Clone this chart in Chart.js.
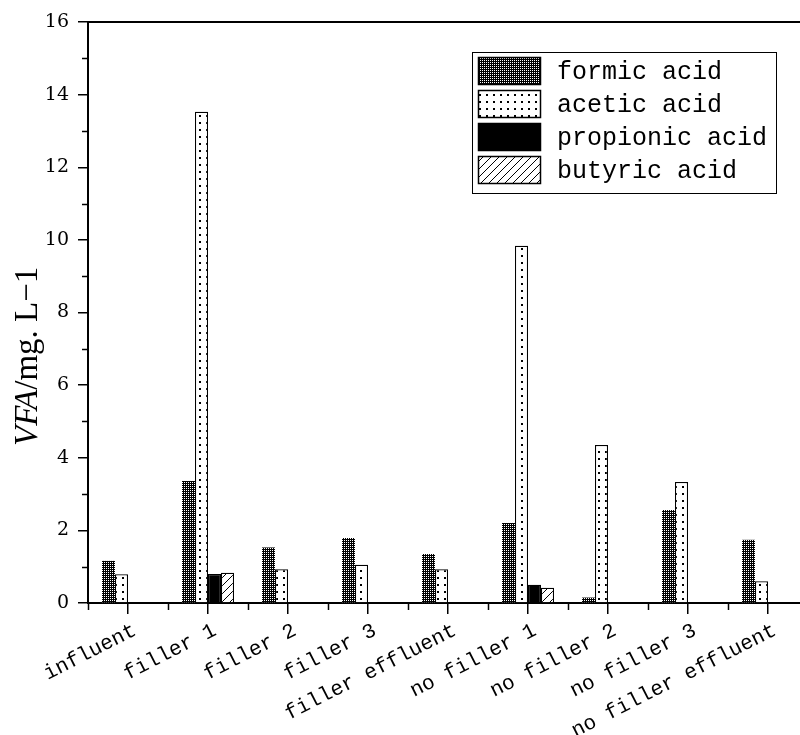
<!DOCTYPE html>
<html>
<head>
<meta charset="utf-8">
<script src="https://cdn.jsdelivr.net/npm/chart.js@4.4.1/dist/chart.umd.min.js"></script>
<style>
    html, body { margin: 0; padding: 0; background: #fff; overflow: hidden; }
    #wrap { position: absolute; left: 0; top: 0; }
</style>
</head>
<body>
<div id="wrap"><canvas id="vfaChart" width="810" height="735"></canvas></div>
<script>
// VFA concentrations per sampling point
const categories = ['influent', 'filler 1', 'filler 2', 'filler 3', 'filler effluent',
    'no filler 1', 'no filler 2', 'no filler 3', 'no filler effluent'];
const seriesNames = ['formic acid', 'acetic acid', 'propionic acid', 'butyric acid'];
const formicAcid = [1.16, 3.36, 1.53, 1.79, 1.35, 2.2, 0.15, 2.56, 1.74];
const aceticAcid = [0.79, 13.53, 0.93, 1.05, 0.93, 9.84, 4.35, 3.33, 0.6];
const propionicAcid = [null, 0.8, null, null, null, 0.5, null, null, null];
const butyricAcid = [null, 0.83, null, null, null, 0.42, null, null, null];
const yMin = 0, yMax = 16, yStep = 2;
const yTitleItalic = 'VFA';
const yTitleRest = '/mg. L\u22121';

const ctx = document.getElementById('vfaChart').getContext('2d');

// small pattern tiles for the bar fills
function makePattern(w, h, draw) {
    const tile = document.createElement('canvas');
    tile.width = w;
    tile.height = h;
    const t = tile.getContext('2d');
    draw(t);
    return ctx.createPattern(tile, 'repeat');
}

const formicFill = makePattern(4, 4, t => {
    t.fillStyle = '#000';
    t.fillRect(0, 0, 4, 4);
    t.fillStyle = '#fff';
    t.fillRect(0, 0, 1, 1);
    t.fillRect(2, 2, 1, 1);
    t.fillRect(2, 0, 1, 1);
    t.fillRect(0, 2, 1, 1);
});
const aceticFill = makePattern(7, 7, t => {
    t.fillStyle = '#fff';
    t.fillRect(0, 0, 7, 7);
    t.fillStyle = '#000';
    t.fillRect(3, 3, 2, 2);
});
const butyricFill = makePattern(8, 8, t => {
    t.fillStyle = '#fff';
    t.fillRect(0, 0, 8, 8);
    t.strokeStyle = '#000';
    t.lineWidth = 1;
    t.beginPath();
    t.moveTo(-1, 9);
    t.lineTo(9, -1);
    t.stroke();
});

const fills = [formicFill, aceticFill, '#000', butyricFill];
const values = [formicAcid, aceticAcid, propionicAcid, butyricAcid];

// extra ticks, frame line, legend box and y title
const decorations = {
    id: 'decorations',
    afterDraw(chart) {
        const c = chart.ctx;
        const area = chart.chartArea;
        const xs = chart.scales.x;
        const ys = chart.scales.y;
        c.save();
        c.strokeStyle = '#000';
        c.fillStyle = '#000';

        // top frame line
        c.lineWidth = 2;
        c.beginPath();
        c.moveTo(area.left, area.top);
        c.lineTo(area.right + 2, area.top);
        c.stroke();

        // minor y ticks
        c.lineWidth = 1.5;
        for (let v = yMin + yStep / 2; v < yMax; v += yStep) {
            const y = Math.round(ys.getPixelForValue(v)) + 0.5;
            c.beginPath();
            c.moveTo(area.left - 6, y);
            c.lineTo(area.left, y);
            c.stroke();
        }

        // minor x ticks at the category boundaries
        const half = (xs.getPixelForValue(1) - xs.getPixelForValue(0)) / 2;
        for (let i = 0; i <= categories.length; i++) {
            const x = Math.round(xs.getPixelForValue(i) - half) + 0.5;
            c.beginPath();
            c.moveTo(x, area.bottom);
            c.lineTo(x, area.bottom + 7);
            c.stroke();
        }

        // legend
        const lx = area.left + 384;
        const ly = area.top + 30;
        c.lineWidth = 1;
        c.strokeRect(lx + 0.5, ly + 0.5, 304, 141);
        c.font = '25px "Liberation Mono", monospace';
        c.textBaseline = 'middle';
        c.textAlign = 'left';
        chart.data.datasets.forEach((ds, i) => {
            const sy = ly + 5 + i * 33;
            c.fillStyle = ds.backgroundColor;
            c.fillRect(lx + 6, sy, 63, 28);
            c.lineWidth = 1.5;
            c.strokeRect(lx + 6.5, sy + 0.5, 62, 27);
            c.fillStyle = '#000';
            c.fillText(ds.label, lx + 85, sy + 15);
        });

        // y axis title, italic part then plain part
        c.translate(37, 446);
        c.rotate(-Math.PI / 2);
        c.textBaseline = 'alphabetic';
        c.font = 'italic 33px "Liberation Serif", serif';
        c.fillText(yTitleItalic, 0, 0);
        const w = c.measureText(yTitleItalic).width;
        c.font = '33px "Liberation Serif", serif';
        c.fillText(yTitleRest, w, 0);
        c.restore();
    }
};

const chart = new Chart(ctx, {
    type: 'bar',
    data: {
        labels: categories,
        datasets: seriesNames.map((name, i) => ({
            label: name,
            data: values[i],
            backgroundColor: fills[i],
            borderColor: '#000',
            borderWidth: i === 0 ? 0 : 1.2,
            categoryPercentage: 0.65,
            barPercentage: 1.0
        }))
    },
    options: {
        responsive: false,
        animation: false,
        devicePixelRatio: 1,
        layout: {
            padding: { top: 22, right: 2, left: 0, bottom: 0 }
        },
        scales: {
            x: {
                grid: {
                    display: true,
                    drawOnChartArea: false,
                    drawTicks: true,
                    offset: false,
                    tickLength: 11,
                    color: '#000',
                    lineWidth: 1.5
                },
                border: { color: '#000', width: 2 },
                ticks: {
                    autoSkip: false,
                    maxRotation: 27,
                    minRotation: 27,
                    padding: 4,
                    labelOffset: 7,
                    color: '#000',
                    font: { family: '"Liberation Mono", monospace', size: 21 }
                },
                afterFit: function(scale) {
                    scale.height = 132;
                }
            },
            y: {
                min: yMin,
                max: yMax,
                grid: {
                    display: true,
                    drawOnChartArea: false,
                    drawTicks: true,
                    tickLength: 10,
                    color: '#000',
                    lineWidth: 1.5
                },
                border: { color: '#000', width: 2 },
                ticks: {
                    stepSize: yStep,
                    padding: 9,
                    color: '#000',
                    font: { family: '"DejaVu Serif", serif', size: 19 }
                },
                afterFit: function(scale) {
                    scale.width = 88;
                }
            }
        },
        plugins: {
            legend: { display: false },
            tooltip: { enabled: false }
        }
    },
    plugins: [decorations]
});
</script>
</body>
</html>
